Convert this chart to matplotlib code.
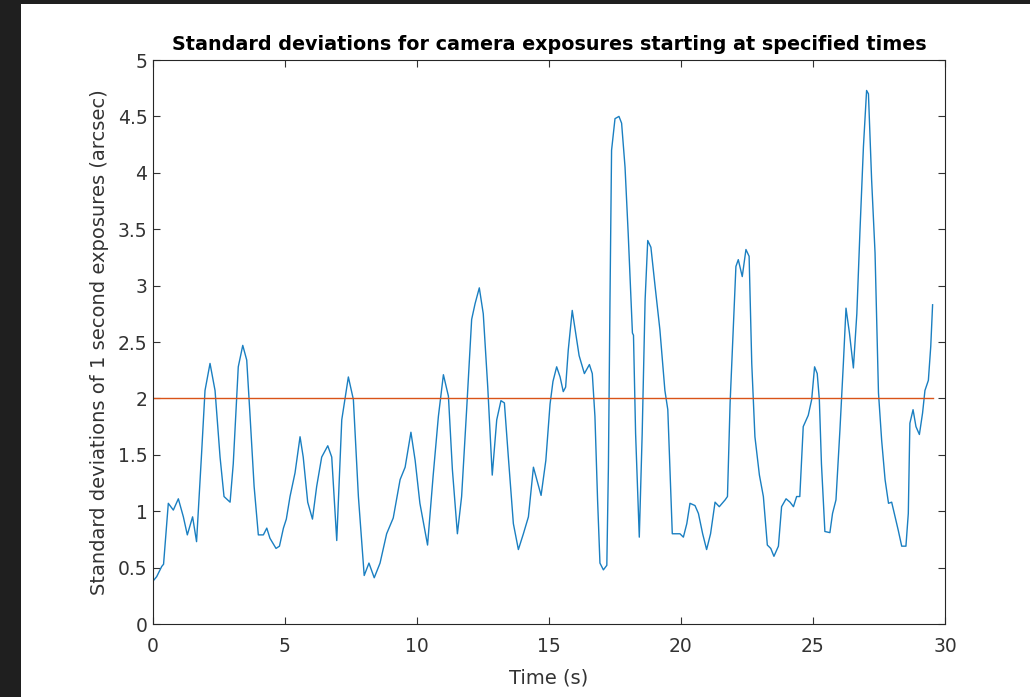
import matplotlib.pyplot as plt
from matplotlib.patches import Rectangle

plt.rcParams['font.family'] = ['DejaVu Sans']

# time (s) and std dev (arcsec)
time_s = [0.0, 0.14, 0.33, 0.40, 0.58, 0.77, 0.96, 1.15, 1.30, 1.50, 1.65, 1.84, 1.97,
          2.16, 2.35, 2.54, 2.69, 2.92, 3.04, 3.23, 3.40, 3.55, 3.67, 3.83, 3.99, 4.18,
          4.31, 4.43, 4.66, 4.79, 4.94, 5.05, 5.19, 5.38, 5.57, 5.69, 5.86, 6.04, 6.20,
          6.39, 6.62, 6.77, 6.96, 7.15, 7.40, 7.59, 7.78, 8.00, 8.18, 8.38, 8.60, 8.85,
          9.10, 9.36, 9.55, 9.77, 9.93, 10.11, 10.40, 10.61, 10.81, 11.00, 11.19, 11.34,
          11.53, 11.69, 11.88, 12.07, 12.20, 12.36, 12.51, 12.68, 12.85, 13.02, 13.18,
          13.31, 13.46, 13.65, 13.84, 14.03, 14.22, 14.41, 14.57, 14.70, 14.88, 15.04,
          15.15, 15.29, 15.42, 15.54, 15.63, 15.73, 15.88, 16.01, 16.14, 16.34, 16.53,
          16.64, 16.74, 16.84, 16.93, 17.06, 17.19, 17.25, 17.31, 17.37, 17.50, 17.65,
          17.75, 17.88, 18.00, 18.16, 18.20, 18.28, 18.42, 18.53, 18.64, 18.74, 18.86,
          19.02, 19.20, 19.39, 19.50, 19.58, 19.67, 19.84, 19.96, 20.09, 20.22, 20.34,
          20.53, 20.66, 20.82, 20.97, 21.12, 21.29, 21.45, 21.67, 21.76, 21.86, 21.98,
          22.08, 22.17, 22.32, 22.46, 22.58, 22.68, 22.80, 22.97, 23.12, 23.27, 23.40,
          23.52, 23.69, 23.81, 23.98, 24.13, 24.26, 24.38, 24.50, 24.63, 24.82, 24.95,
          25.06, 25.16, 25.24, 25.32, 25.45, 25.64, 25.74, 25.87, 26.02, 26.15, 26.25,
          26.38, 26.53, 26.66, 26.78, 26.91, 27.03, 27.10, 27.22, 27.35, 27.48, 27.60,
          27.73, 27.86, 27.98, 28.11, 28.23, 28.36, 28.52, 28.61, 28.67, 28.79, 28.90,
          29.03, 29.15, 29.24, 29.37, 29.46, 29.53]
std_dev = [0.38, 0.42, 0.51, 0.53, 1.07, 1.01, 1.11, 0.95, 0.79, 0.95, 0.73, 1.51, 2.07,
           2.31, 2.07, 1.48, 1.13, 1.08, 1.42, 2.28, 2.47, 2.34, 1.87, 1.22, 0.79, 0.79,
           0.85, 0.76, 0.67, 0.69, 0.85, 0.93, 1.13, 1.34, 1.66, 1.48, 1.08, 0.93, 1.22,
           1.48, 1.58, 1.48, 0.74, 1.81, 2.19, 1.99, 1.13, 0.43, 0.54, 0.41, 0.54, 0.80,
           0.94, 1.28, 1.39, 1.70, 1.45, 1.07, 0.70, 1.31, 1.84, 2.21, 2.02, 1.37,
           0.80, 1.13, 1.90, 2.70, 2.84, 2.98, 2.75, 2.10, 1.32, 1.81, 1.98,
           1.96, 1.48, 0.89, 0.66, 0.80, 0.95, 1.39, 1.25, 1.14, 1.45, 1.95,
           2.15, 2.28, 2.19, 2.06, 2.10, 2.43, 2.78, 2.58, 2.38, 2.22, 2.30,
           2.22, 1.84, 1.10, 0.54, 0.48, 0.52, 1.39, 2.87, 4.20, 4.48, 4.50,
           4.44, 4.05, 3.46, 2.58, 2.56, 1.69, 0.77, 1.69, 2.87, 3.40, 3.34,
           2.99, 2.61, 2.07, 1.90, 1.39, 0.80, 0.80, 0.80, 0.77, 0.89, 1.07,
           1.05, 0.98, 0.80, 0.66, 0.80, 1.08, 1.04, 1.10, 1.13, 1.96, 2.61,
           3.17, 3.23, 3.08, 3.32, 3.26, 2.31, 1.66, 1.32, 1.13, 0.70, 0.67,
           0.60, 0.69, 1.04, 1.11, 1.08, 1.04, 1.13, 1.13, 1.75, 1.85, 1.99,
           2.28, 2.22, 1.99, 1.42, 0.82, 0.81, 0.98, 1.10, 1.72, 2.31, 2.80,
           2.58, 2.27, 2.75, 3.49, 4.23, 4.73, 4.70, 3.94, 3.29, 2.05, 1.63,
           1.28, 1.07, 1.08, 0.95, 0.83, 0.69, 0.69, 0.98, 1.78, 1.90, 1.75,
           1.68, 1.87, 2.07, 2.16, 2.46, 2.83]
threshold = 2.0
xticks = [0, 5, 10, 15, 20, 25, 30]
yticks = [0, 0.5, 1, 1.5, 2, 2.5, 3, 3.5, 4, 4.5, 5]
ytick_labels = ['0', '0.5', '1', '1.5', '2', '2.5', '3', '3.5', '4', '4.5', '5']

fig = plt.figure(figsize=(10.30, 6.97), dpi=100, facecolor='#1f1f1f')
# white figure area of the screenshot, dark frame round it
fig.patches.append(Rectangle((21 / 1030, 0), 1, 1 - 4 / 697, transform=fig.transFigure,
                             facecolor='white', edgecolor='none', zorder=-10))

ax = fig.add_axes([153 / 1030, 1 - 624 / 697, 792 / 1030, 564 / 697])
ax.set_zorder(1)
ax.plot(time_s, std_dev, color='#1a7fc1', lw=1.0)
ax.plot([time_s[0], time_s[-1]], [threshold, threshold], color='#D95319', lw=1.0)

ax.set_xlim(0, 30)
ax.set_ylim(0, 5)
ax.set_xticks(xticks)
ax.set_yticks(yticks)
ax.set_yticklabels(ytick_labels)
ax.tick_params(direction='in', top=True, right=True, length=5, width=0.8,
               colors='#333333', labelsize=13.5)
ax.tick_params(axis='x', pad=9)
ax.tick_params(axis='y', pad=4)
for s in ax.spines.values():
    s.set_color('#262626')
    s.set_linewidth(0.8)

ax.set_xlabel('Time (s)', fontsize=14, color='#333333', labelpad=9)
ax.set_ylabel('Standard deviations of 1 second exposures (arcsec)', fontsize=14,
              color='#333333', labelpad=6)
ax.set_title('Standard deviations for camera exposures starting at specified times',
             fontsize=13.8, fontweight='bold', color='black', pad=7)

plt.savefig('out.png', dpi=100, facecolor=fig.get_facecolor())
